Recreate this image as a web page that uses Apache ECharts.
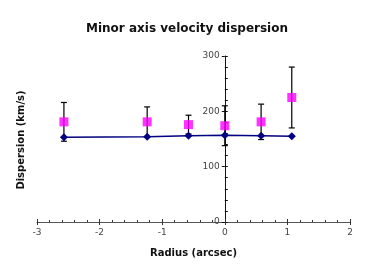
<!DOCTYPE html>
<html><head><meta charset="utf-8">
<script src="https://cdn.jsdelivr.net/npm/echarts@6/dist/echarts.min.js"></script>
<style>html,body{margin:0;padding:0;background:#fff}#c{width:374px;height:280px}</style>
</head><body><div id="c"></div>
<script>
const radius = [-2.57, -1.24, -0.58, 0.0, 0.58, 1.07];
const modelSigma = [153, 154, 156, 157, 156, 155];
const obsSigma = [181, 181, 176, 174, 181, 225];
const obsErr = [35, 27, 17, 36, 32, 55];
const xTicks = [-3, -2, -1, 0, 1, 2];
const yTicks = [0, 100, 200, 300];

const font = 'DejaVu Sans, Verdana, sans-serif';
const gridLeft = 37, gridRight = 24;
const plotW = 374 - gridLeft - gridRight;
const xMin = xTicks[0], xMax = xTicks[xTicks.length - 1];
// shift y axis so it sits on x = 0
const yOffset = -plotW * (0 - xMin) / (xMax - xMin);

const chart = echarts.init(document.getElementById('c'));
const errData = radius.map((r, i) => [r, obsSigma[i] - obsErr[i], obsSigma[i] + obsErr[i]]);
const modelData = radius.map((r, i) => [r, modelSigma[i]]);
const obsData = radius.map((r, i) => [r, obsSigma[i]]);

const xBase = {
  type: 'value', min: xMin, max: xMax, interval: 1, position: 'bottom',
  splitLine: { show: false }
};
const yBase = {
  type: 'value', min: yTicks[0], max: yTicks[yTicks.length - 1], interval: 100,
  position: 'left', offset: yOffset,
  splitLine: { show: false }
};

chart.setOption({
  animation: false,
  title: {
    text: 'Minor axis velocity dispersion', left: 'center', top: 18,
    textStyle: { fontFamily: font, fontSize: 12, fontWeight: 'bold', color: '#111' }
  },
  grid: { left: gridLeft, right: gridRight, top: 56, bottom: 58 },
  xAxis: [
    Object.assign({}, xBase, {
      axisLine: { show: true, onZero: false, lineStyle: { color: '#555', width: 1 } },
      axisTick: { show: true, inside: false, length: 3, lineStyle: { color: '#333' } },
      axisLabel: { fontFamily: font, fontSize: 9, color: '#444', margin: 6 },
      name: 'Radius (arcsec)', nameLocation: 'middle', nameGap: 26,
      nameTextStyle: { fontFamily: font, fontSize: 10, fontWeight: 'bold', color: '#111' }
    }),
    Object.assign({}, xBase, {
      axisLine: { show: false, onZero: false },
      axisTick: { show: true, inside: true, length: 3, lineStyle: { color: '#333' } },
      minorTick: { show: true, splitNumber: 5, length: 2, lineStyle: { color: '#333' } },
      axisLabel: { show: false }
    })
  ],
  yAxis: [
    Object.assign({}, yBase, {
      axisLine: { show: true, onZero: false, lineStyle: { color: '#111', width: 1 } },
      axisTick: { show: true, inside: false, length: 3, lineStyle: { color: '#111' } },
      axisLabel: { fontFamily: font, fontSize: 9, color: '#444', margin: 5 }
    }),
    Object.assign({}, yBase, {
      axisLine: { show: false, onZero: false },
      axisTick: { show: true, inside: true, length: 3, lineStyle: { color: '#111' } },
      minorTick: { show: true, splitNumber: 5, length: 3, lineStyle: { color: '#111' } },
      axisLabel: { show: false }
    })
  ],
  graphic: [{
    type: 'text', left: 16, top: 'middle', rotation: Math.PI / 2,
    style: { text: 'Dispersion (km/s)', font: 'bold 10px ' + font, fill: '#111' }
  }],
  series: [
    {
      type: 'custom', z: 1,
      data: errData,
      renderItem: function (params, api) {
        const x = api.value(0);
        const lo = api.coord([x, api.value(1)]);
        const hi = api.coord([x, api.value(2)]);
        const w = 3;
        const st = { stroke: '#000', lineWidth: 1.2 };
        return {
          type: 'group', children: [
            { type: 'line', shape: { x1: lo[0], y1: lo[1], x2: hi[0], y2: hi[1] }, style: st },
            { type: 'line', shape: { x1: lo[0] - w, y1: lo[1], x2: lo[0] + w, y2: lo[1] }, style: st },
            { type: 'line', shape: { x1: hi[0] - w, y1: hi[1], x2: hi[0] + w, y2: hi[1] }, style: st }
          ]
        };
      }
    },
    {
      type: 'line', z: 2, data: modelData,
      symbol: 'diamond', symbolSize: 8,
      lineStyle: { color: '#000080', width: 1.5 },
      itemStyle: { color: '#000080' }
    },
    {
      type: 'scatter', z: 3, data: obsData,
      symbol: 'rect', symbolSize: 9,
      itemStyle: { color: '#FF00FF' }
    }
  ]
});
</script></body></html>
